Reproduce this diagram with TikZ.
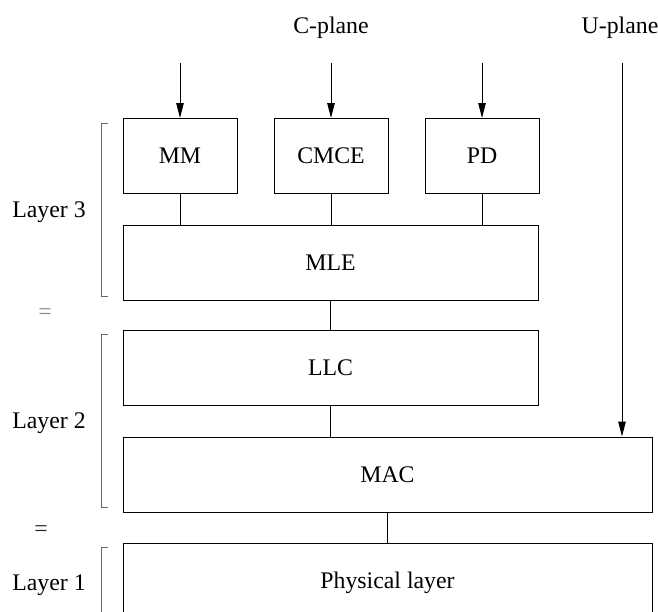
\documentclass[tikz,border=0pt]{standalone}
\usepackage{fontspec}
\setmainfont{Liberation Serif}
\usetikzlibrary{arrows.meta}
\tikzset{
  x=1pt, y=-1pt,
  lbl/.style={font=\fontsize{23.8}{28}\selectfont, inner sep=0pt, text height=15.8pt, text depth=0pt},
  blk/.style={lbl, draw=black, line width=1pt, minimum height=75pt},
  conn/.style={draw=black, line width=1pt},
  arr/.style={draw=black, line width=1pt, -{Triangle[length=15pt,width=7.5pt]}},
  brk/.style={draw=black!60, line width=1pt},
}
\begin{document}
\begin{tikzpicture}
\useasboundingbox (0,0) rectangle (658,611);
\clip (0,0) rectangle (658,611);
\fill[white] (0,0) rectangle (658,611);

% boxes
\node[blk, minimum width=114pt] (MM) at (180,156) {MM};
\node[blk, minimum width=114pt] (CMCE) at (331,156) {CMCE};
\node[blk, minimum width=114pt] (PD) at (482,156) {PD};
\node[blk, minimum width=415pt] (MLE) at (330.5,262.5) {MLE};
\node[blk, minimum width=415pt] (LLC) at (330.5,368) {LLC};
\node[blk, minimum width=529pt] (MAC) at (387.5,474.5) {MAC};
\node[blk, minimum width=529pt, minimum height=76pt] (PHY) at (387.5,581) {Physical layer};

% top labels
\node[lbl] (cplane) at (331,26) {C-plane};
\node[lbl] (uplane) at (620,26) {U-plane};

% input arrows
\coordinate (mmin) at (180,63);
\coordinate (cmin) at (331,63);
\coordinate (pdin) at (482,63);
\coordinate (uin) at (622,63);
\draw[arr] (mmin) -- (MM.north);
\draw[arr] (cmin) -- (CMCE.north);
\draw[arr] (pdin) -- (PD.north);
\draw[arr] (uin) -- (uin |- MAC.north);

% connectors
\draw[conn] (MM.south) -- (MM.south |- MLE.north);
\draw[conn] (CMCE.south) -- (CMCE.south |- MLE.north);
\draw[conn] (PD.south) -- (PD.south |- MLE.north);
\draw[conn] (MLE.south) -- (LLC.north);
\draw[conn] (LLC.south) -- (LLC.south |- MAC.north);
\draw[conn] (MAC.south) -- (PHY.north);

% layer labels
\node[lbl] (L3) at (49,210) {Layer 3};
\node[lbl] (L2) at (49,421) {Layer 2};
\node[lbl] (L1) at (49,583) {Layer 1};
\node[lbl, text=black!45] (eq1) at (45,312) {=};
\node[lbl, text=black!85] (eq2) at (41,529) {=};

% brackets
\draw[brk] (108,123) -- (101,123) -- (101,296) -- (108,296);
\draw[brk] (108,334) -- (101,334) -- (101,507) -- (108,507);
\draw[brk] (108,547) -- (101,547) -- (101,640);
\end{tikzpicture}
\end{document}
